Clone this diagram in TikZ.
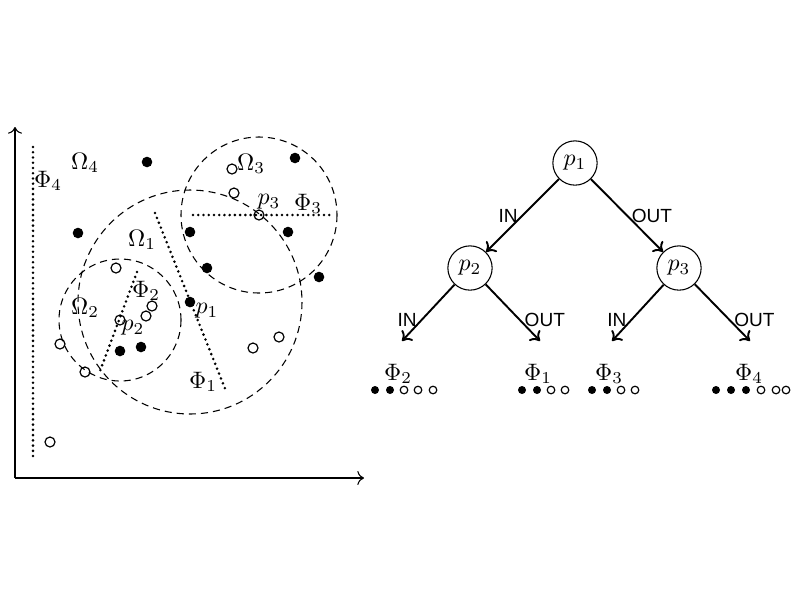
\documentclass[tikz,border=0pt]{standalone}
\usepackage{fontspec}
\setsansfont{Liberation Sans}
\usetikzlibrary{arrows.meta}

\begin{document}
\begin{tikzpicture}[
  x=0.42pt, y=-0.42pt,
  region/.style={draw, line width=0.45pt, dash pattern=on 3pt off 2.1pt},
  split/.style={line width=1.2pt, line cap=round, dash pattern=on 0pt off 2.2pt},
  axis/.style={-{To[length=2.8pt]}, line width=0.45pt},
  test/.style={draw, circle, line width=0.45pt, minimum size=18.6pt, inner sep=0pt},
  branch/.style={-{To[length=3.6pt, width=6.4pt]}, line width=0.8pt},
  lab/.style={font=\sffamily\fontsize{8}{9}\selectfont, inner sep=1.6pt},
  hit/.style={fill=black},
  miss/.style={draw, line width=0.5pt}
]
  \useasboundingbox (0,0) rectangle (800,600);

  % feature space
  \coordinate (origin) at (15,478);
  \coordinate (xend) at (364,478);
  \coordinate (yend) at (15,127);
  \draw[axis] (origin) -- (xend);
  \draw[axis] (origin) -- (yend);

  \coordinate (p1) at (190,302);
  \coordinate (p2) at (120,320);
  \coordinate (p3) at (259,215);

  \draw[region] (p1) circle (112);
  \draw[region] (p2) circle (61);
  \draw[region] (p3) circle (78);

  \draw[split] (33,147) -- (33,460);
  \draw[split] (155,213) -- (226,391);
  \draw[split] (137,272) -- (100,371);
  \draw[split] (193,215) -- (333,215);

  \foreach \x/\y in {147/162, 295/158, 78/233, 190/232, 288/232,
                     207/268, 319/277, 190/302, 120/351, 141/347}
    \fill[hit] (\x,\y) circle (5.3);
  \foreach \x/\y in {232/169, 234/193, 259/215, 116/268, 152/306, 146/316,
                     120/320, 60/344, 85/372, 253/348, 279/337, 50/442}
    \draw[miss] (\x,\y) circle (5);

  \node (om4) at (85,163) {$\Omega_4$};
  \node (ph4) at (48,181) {$\Phi_4$};
  \node (om3) at (251,164) {$\Omega_3$};
  \node (lp3) at (269,202) {$p_3$};
  \node (ph3) at (308,204) {$\Phi_3$};
  \node (om1) at (142,240) {$\Omega_1$};
  \node (ph2) at (146,291) {$\Phi_2$};
  \node (om2) at (85,308) {$\Omega_2$};
  \node (lp2) at (133,328) {$p_2$};
  \node (lp1) at (207,311) {$p_1$};
  \node (ph1) at (203,382) {$\Phi_1$};

  % decision tree
  \node[test] (t1) at (575,163) {$p_1$};
  \node[test] (t2) at (470,268) {$p_2$};
  \node[test] (t3) at (679,268) {$p_3$};
  \coordinate (l1) at (402,341);
  \coordinate (l2) at (540,341);
  \coordinate (l3) at (612,341);
  \coordinate (l4) at (750,341);

  \draw[branch] (t1) -- node[midway, left, lab] {IN} (t2);
  \draw[branch] (t1) -- node[midway, right, lab] {OUT} (t3);
  \draw[branch] (t2) -- node[pos=0.63, left, lab] {IN} (l1);
  \draw[branch] (t2) -- node[pos=0.63, right, lab] {OUT} (l2);
  \draw[branch] (t3) -- node[pos=0.63, left, lab] {IN} (l3);
  \draw[branch] (t3) -- node[pos=0.63, right, lab] {OUT} (l4);

  \node (f2) at (398,374) {$\Phi_2$};
  \node (f1) at (538,374) {$\Phi_1$};
  \node (f3) at (609,374) {$\Phi_3$};
  \node (f4) at (749,374) {$\Phi_4$};

  \foreach \x in {375,390}
    \fill[hit] (\x,390) circle (4);
  \foreach \x in {404,418,433}
    \draw[miss] (\x,390) circle (3.8);
  \foreach \x in {522,537}
    \fill[hit] (\x,390) circle (4);
  \foreach \x in {551,565}
    \draw[miss] (\x,390) circle (3.8);
  \foreach \x in {592,607}
    \fill[hit] (\x,390) circle (4);
  \foreach \x in {621,635}
    \draw[miss] (\x,390) circle (3.8);
  \foreach \x in {716,731,746}
    \fill[hit] (\x,390) circle (4);
  \foreach \x in {761,776,786}
    \draw[miss] (\x,390) circle (3.8);
\end{tikzpicture}
\end{document}
